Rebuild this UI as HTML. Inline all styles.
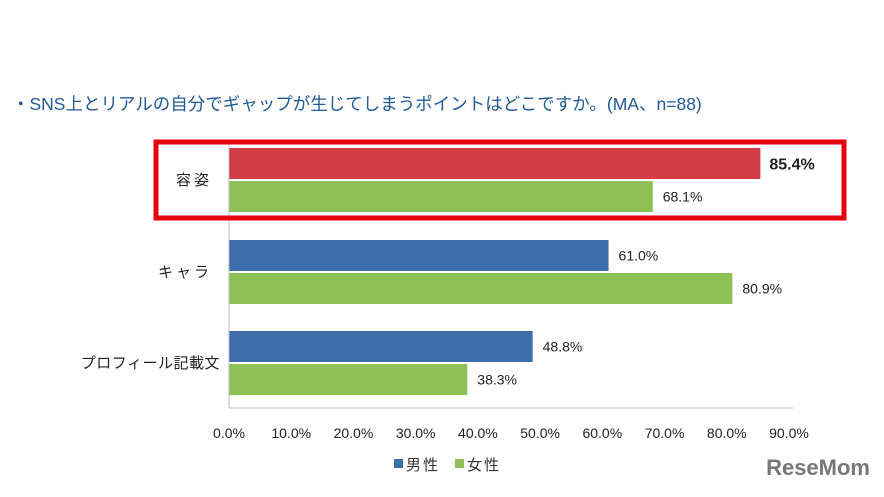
<!DOCTYPE html>
<html><head><meta charset="utf-8">
<style>
body{margin:0;background:#fff;width:884px;height:492px;overflow:hidden;font-family:"Liberation Sans","Noto Sans CJK JP",sans-serif;}
svg text{font-family:"Liberation Sans","Noto Sans CJK JP",sans-serif;}
</style></head>
<body>
<svg id="chart" width="884" height="492">
<text x="12" y="110" font-size="17.5" fill="#1f5a96">・SNS上とリアルの自分でギャップが生じてしまうポイントはどこですか。(MA、n=88)</text>
<g id="bars"></g>
<g id="axis"></g>
<rect x="156" y="142" width="688" height="76" fill="none" stroke="#e50012" stroke-width="5"/>
<g>
<rect x="394" y="459" width="9" height="9" fill="#3d6eab"/>
<text x="406" y="470" font-size="15" letter-spacing="2" fill="#333">男性</text>
<rect x="455" y="459" width="9" height="9" fill="#8dc155"/>
<text x="467" y="470" font-size="15" letter-spacing="2" fill="#333">女性</text>
</g>
<text x="870" y="475" text-anchor="end" font-size="22" font-weight="bold" fill="#777">ReseMom</text>
</svg>
<script>
const categories=["容姿","キャラ","プロフィール記載文"];
const male=[85.4,61.0,48.8];
const female=[68.1,80.9,38.3];
const ticks=[0,10,20,30,40,50,60,70,80,90];
const NS="http://www.w3.org/2000/svg";
const x0=229,x1=789,maxV=90;
const X=v=>x0+(x1-x0)*v/maxV;
const groupTop=[148,240,331];
const bh=31;
function mk(tag,attrs,parent,text){const e=document.createElementNS(NS,tag);for(const k in attrs)e.setAttribute(k,attrs[k]);if(text!==undefined)e.textContent=text;parent.appendChild(e);return e;}
const bars=document.getElementById('bars'),axis=document.getElementById('axis');
categories.forEach((c,i)=>{
  const t=groupTop[i];
  const mColor=i===0?"#d13c45":"#3d6eab";
  let r=mk('rect',{x:x0,y:t,width:X(male[i])-x0,height:bh,fill:mColor},bars);
  
  
  r=mk('rect',{x:x0,y:t+bh+2,width:X(female[i])-x0,height:bh,fill:"#8dc155"},bars);
  
  
  let l=mk('text',{x:X(male[i])+(i===0?9:10),y:t+bh/2+(i===0?6:5),"font-size":i===0?16:14,"font-weight":i===0?"bold":"normal",fill:"#222"},bars,male[i].toFixed(1)+"%");
  
  
  l=mk('text',{x:X(female[i])+10,y:t+bh+2+bh/2+5,"font-size":14,fill:"#222"},bars,female[i].toFixed(1)+"%");
  
  
  l=mk('text',{x:i===2?220:212,y:t+bh+6,"font-size":15,"letter-spacing":i===2?0.5:3,"text-anchor":"end",fill:"#222"},axis,c);
  
  
});
let ln=mk('line',{x1:x0,y1:140,x2:x0,y2:408,stroke:"#bbb"},axis);


ln=mk('line',{x1:x0,y1:408,x2:x1+4,y2:408,stroke:"#bbb"},axis);


ticks.forEach(v=>{
  const t=mk('text',{x:X(v),y:438,"font-size":14,"text-anchor":"middle",fill:"#222"},axis,v.toFixed(1)+"%");
  
  
});
</script>
</body></html>
